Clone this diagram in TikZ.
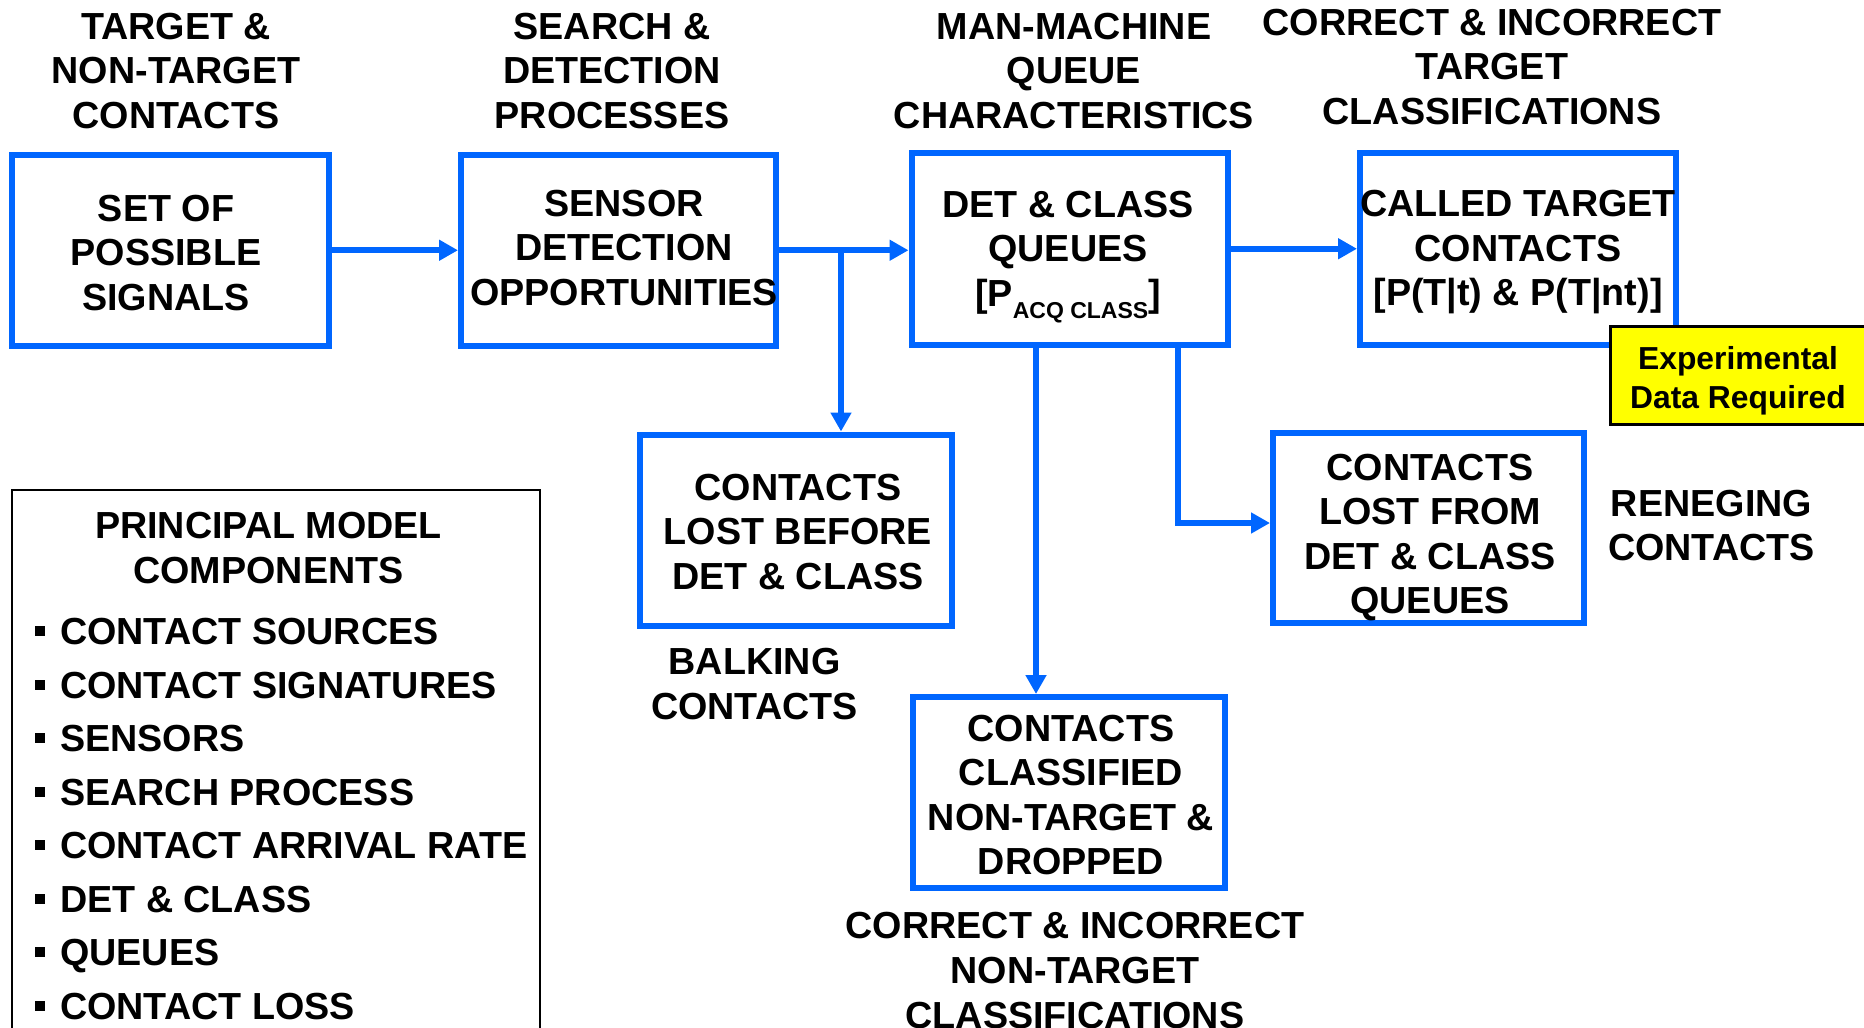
\documentclass[tikz,border=0pt]{standalone}
\usepackage{fontspec}
\setmainfont{Liberation Sans}
\usetikzlibrary{arrows.meta}

\definecolor{flowblue}{RGB}{0,102,255}
\definecolor{noteyellow}{RGB}{255,255,0}

\newcommand\bigtxt{\fontsize{37.7pt}{44.6pt}\selectfont\bfseries}
\newcommand\listtxt{\fontsize{37.7pt}{53.5pt}\selectfont\bfseries}
\newcommand\notetxt{\fontsize{31.8pt}{38.5pt}\selectfont\bfseries}
\newcommand\subtxt{\fontsize{23pt}{23pt}\selectfont\bfseries}
\newcommand\sqbullet{\rule[8.3pt]{10pt}{10pt}\hspace{15pt}}

\begin{document}
\begin{tikzpicture}[x=1pt, y=-1pt,
  box/.style={draw=flowblue, line width=6pt, inner sep=0pt},
  conn/.style={draw=flowblue, line width=6pt},
  arr/.style={conn, -{Triangle[length=19pt,width=20pt]}},
  txt/.style={font=\bigtxt, align=center, inner sep=0pt, anchor=north, text=black}]

\useasboundingbox (0,0) rectangle (1864,1028);

% process boxes
\node[box, minimum width=317pt, minimum height=191.5pt] (B1) at (170.5,250.25) {};
\node[box, minimum width=315pt, minimum height=191.5pt] (B2) at (618.5,250.25) {};
\node[box, minimum width=316.2pt, minimum height=191.5pt] (B3) at (1069.6,248.75) {};
\node[box, minimum width=316pt, minimum height=191.5pt] (B4) at (1518,248.75) {};
\node[box, minimum width=312pt, minimum height=191.2pt] (B5) at (796,530.1) {};
\node[box, minimum width=311pt, minimum height=190.4pt] (B6) at (1428.5,527.8) {};
\node[box, minimum width=311.9pt, minimum height=190.5pt] (B7) at (1068.65,792.25) {};

% legend frame and note
\node[draw=black, line width=2pt, inner sep=0pt, minimum width=528pt, minimum height=560pt] (LF) at (275.5,769.5) {};
\node[draw=black, fill=noteyellow, line width=3pt, inner sep=0pt, minimum width=269.5pt, minimum height=98pt] (N) at (1745.25,375.5) {};

% connectors
\draw[arr] (B1.east) -- (B2.west);
\draw[arr] (B2.east) -- (B2.east -| B3.west);
\coordinate (J) at ([xshift=62pt]B2.east);
\draw[arr] (J) -- (J |- B5.north);
\draw[arr] (B3.east) -- (B4.west);
\coordinate (D1) at ([xshift=-33.6pt]B3.south);
\draw[arr] (D1) -- (D1 |- B7.north);
\coordinate (D2) at ([xshift=108.4pt]B3.south);
\coordinate (R) at ([yshift=4.8pt]B6.west);
\draw[arr] (D2) |- (R);

% headings
\node[txt] (L1) at (176,12.5) {TARGET \&\\NON-TARGET\\CONTACTS};
\node[txt] (L2) at (612,12.5) {SEARCH \&\\DETECTION\\PROCESSES};
\node[txt] (L3) at (1074,12.5) {MAN-MACHINE\\QUEUE\\CHARACTERISTICS};
\node[txt] (L4) at (1492,8.5) {CORRECT \& INCORRECT\\TARGET\\CLASSIFICATIONS};

% box texts
\node[txt] (T1) at (166,194.5) {SET OF\\POSSIBLE\\SIGNALS};
\node[txt] (T2) at (624,189.5) {SENSOR\\DETECTION\\OPPORTUNITIES};
\node[txt] (T3) at (1068,190.5) {DET \& CLASS\\QUEUES\\{[}P\raisebox{-12pt}{\subtxt ACQ CLASS}]};
\node[txt] (T4) at (1518,190) {CALLED TARGET\\CONTACTS\\{[}P(T|t) \& P(T|nt)]};
\node[txt] (T5) at (798,473.5) {CONTACTS\\LOST BEFORE\\DET \& CLASS};
\node[txt] (T6) at (1430,453.5) {CONTACTS\\LOST FROM\\DET \& CLASS\\QUEUES};
\node[txt] (T7) at (1071,714.5) {CONTACTS\\CLASSIFIED\\NON-TARGET \&\\DROPPED};

% side labels
\node[txt] (LB) at (754.5,648) {BALKING\\CONTACTS};
\node[txt] (LR) at (1711.5,489.5) {RENEGING\\CONTACTS};
\node[txt, font=\fontsize{37.7pt}{45.2pt}\selectfont\bfseries] (LC) at (1075,911.7) {CORRECT \& INCORRECT\\NON-TARGET\\CLASSIFICATIONS};

% legend
\node[txt] (LT) at (268.5,512.1) {PRINCIPAL MODEL\\COMPONENTS};
\node[txt, font=\listtxt, align=left, anchor=north west] (LI) at (35,618)
  {\sqbullet CONTACT SOURCES\\
   \sqbullet CONTACT SIGNATURES\\
   \sqbullet SENSORS\\
   \sqbullet SEARCH PROCESS\\
   \sqbullet CONTACT ARRIVAL RATE\\
   \sqbullet DET \& CLASS\\
   \sqbullet QUEUES\\
   \sqbullet CONTACT LOSS};

% note text
\node[txt, font=\notetxt] (NT) at (1738,346.6) {Experimental\\Data Required};
\end{tikzpicture}
\end{document}
